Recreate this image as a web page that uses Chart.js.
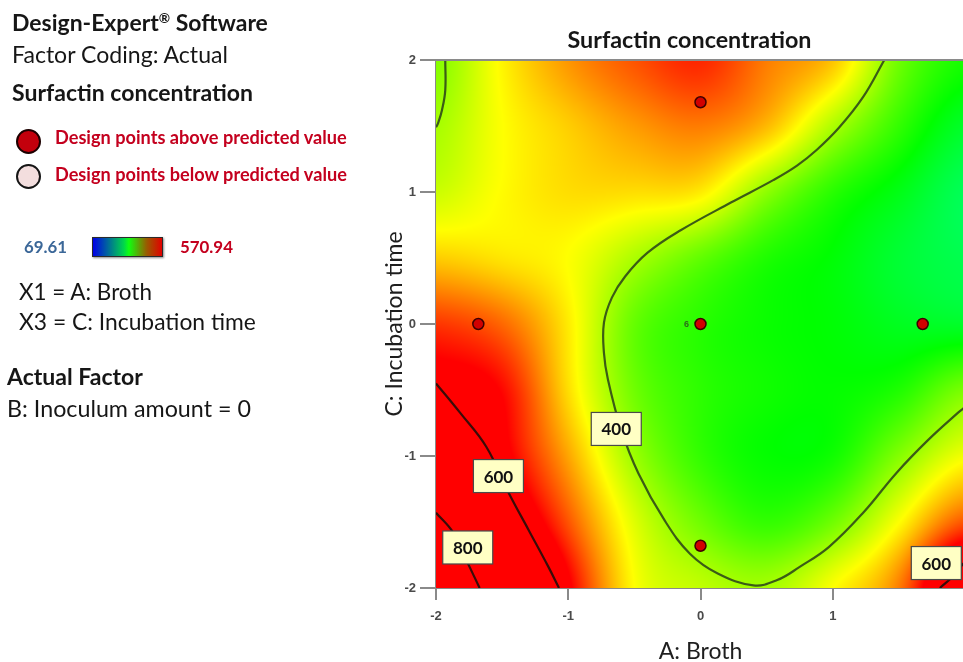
<!DOCTYPE html>
<html>
<head>
<meta charset="utf-8">
<script src="https://cdn.jsdelivr.net/npm/chart.js@4.4.0/dist/chart.umd.min.js"></script>
<style>
html,body{margin:0;padding:0;width:963px;height:662px;overflow:hidden;background:#fff;}
#wrap{position:relative;width:963px;height:662px;overflow:hidden;}
#c{position:absolute;left:0;top:0;}
.t{position:absolute;white-space:nowrap;font-family:Lato,"Open Sans",sans-serif;line-height:1.2;color:#161616;z-index:2;}
.b{font-weight:700;}
.red{color:#c4001e;}
.dot{position:absolute;border-radius:50%;box-sizing:border-box;z-index:2;}
#bar{position:absolute;left:92px;top:237px;width:71px;height:20px;box-sizing:border-box;border:1.5px solid #2a2a2a;
 background:linear-gradient(to right,#0000e6 0%,#00d84a 45%,#10ff10 52%,#9a5a00 78%,#e20000 100%);box-shadow:1px 1px 2px rgba(0,0,0,0.45);z-index:2;}
</style>
</head>
<body>
<div id="wrap">
<canvas id="c" width="972" height="662"></canvas>

<div class="t b" data-x="12" data-b="31" data-w="256" data-fs="21">Design-Expert<span style="font-size:0.6em;vertical-align:0.6em">®</span> Software</div>
<div class="t" data-x="12" data-b="63" data-w="216" data-fs="21">Factor Coding: Actual</div>
<div class="t b" data-x="12" data-b="101" data-w="241" data-fs="21">Surfactin concentration</div>

<div class="dot" style="left:16px;top:129px;width:25px;height:25px;background:#c3000c;border:2.5px solid #1c0000;"></div>
<div class="t b red" data-x="55" data-b="144" data-w="292" data-fs="16">Design points above predicted value</div>
<div class="dot" style="left:16px;top:164px;width:25px;height:25px;background:#f3dede;border:2.5px solid #151515;"></div>
<div class="t b red" data-x="55" data-b="181" data-w="292" data-fs="16">Design points below predicted value</div>

<div class="t b" style="color:#3b6798" data-x="24" data-b="253" data-w="43" data-fs="16">69.61</div>
<div id="bar"></div>
<div class="t b red" data-x="180" data-b="253" data-w="53" data-fs="16">570.94</div>

<div class="t" data-x="19" data-b="300" data-w="133" data-fs="22">X1 = A: Broth</div>
<div class="t" data-x="19" data-b="330" data-w="237" data-fs="22">X3 = C: Incubation time</div>
<div class="t b" data-x="7" data-b="385" data-w="136" data-fs="22">Actual Factor</div>
<div class="t" data-x="7" data-b="417" data-w="244" data-fs="22">B: Inoculum amount = 0</div>
</div>

<script>
// ---------------- data ----------------
const chartTitle = 'Surfactin concentration';
const xTitle = 'A: Broth';
const yTitle = 'C: Incubation time';
const xTicks = [-2, -1, 0, 1];
const yTicks = [-2, -1, 0, 1, 2];
const zMin = 69.61, zMax = 570.94;

// response surface sampled on a grid (rows: C from 2 to -2, columns: A from -2 to 2)
const gridA = [-2, -1.5, -1, -0.5, 0, 0.5, 1, 1.5, 2];
const gridC = [2, 1.5, 1, 0.5, 0, -0.5, -1, -1.5, -2];
const surface = [
  [385, 450, 497, 530, 552, 510, 475, 375, 330],
  [402, 445, 470, 495, 510, 480, 406, 345, 300],
  [420, 447, 462, 462, 455, 390, 340, 310, 278],
  [470, 458, 445, 405, 368, 335, 318, 295, 282],
  [545, 520, 455, 370, 340, 325, 318, 305, 300],
  [600, 568, 462, 375, 342, 328, 322, 335, 380],
  [700, 588, 490, 397, 345, 322, 328, 385, 440],
  [810, 650, 530, 430, 375, 345, 375, 445, 530],
  [900, 760, 580, 446, 415, 402, 445, 510, 680]
];

// design points
const designA = [0, -1.68, 0, 1.68, 0];
const designC = [1.68, 0, 0, 0, -1.68];
const replicateText = '6';

// contour lines
const c400A = [1.39, 1.23, 1.05, 0.88, 0.73, 0.55, 0.23, -0.15, -0.40, -0.57, -0.67, -0.73, -0.73, -0.70, -0.60, -0.47, -0.27, -0.08, 0.13, 0.40, 0.58, 0.75, 0.97, 1.23, 1.48, 1.72, 1.95, 2.0];
const c400C = [2.0, 1.72, 1.49, 1.32, 1.20, 1.09, 0.92, 0.71, 0.54, 0.36, 0.20, 0.01, -0.22, -0.42, -0.80, -1.13, -1.49, -1.74, -1.89, -1.98, -1.94, -1.84, -1.69, -1.43, -1.13, -0.88, -0.67, -0.63];
const c400bA = [-1.93, -1.93, -1.955, -1.985, -2.0];
const c400bC = [2.0, 1.77, 1.62, 1.52, 1.49];
const c600A = [-2.0, -1.82, -1.62, -1.45, -1.30, -1.15, -1.07];
const c600C = [-0.45, -0.67, -0.93, -1.28, -1.56, -1.84, -2.0];
const c800A = [-2.0, -1.87, -1.77, -1.67];
const c800C = [-1.43, -1.58, -1.79, -2.0];
const c600bA = [1.81, 1.90, 1.95, 2.0];
const c600bC = [-2.0, -1.92, -1.86, -1.80];

// contour labels
const labelText = ['400', '600', '800', '600'];
const labelA = [-0.637, -1.528, -1.760, 1.783];
const labelC = [-0.795, -1.152, -1.693, -1.811];

// ---------------- helpers ----------------
function pts(A, C) { return A.map((a, i) => ({ x: a, y: C[i] })); }

function cr(p0, p1, p2, p3, t) {
  return p1 + 0.5 * t * (p2 - p0 + t * (2 * p0 - 5 * p1 + 4 * p2 - p3 + t * (3 * (p1 - p2) + p3 - p0)));
}
function sampleGrid(a, c) {
  const fi = (c - gridC[0]) / (gridC[1] - gridC[0]);
  const fj = (a - gridA[0]) / (gridA[1] - gridA[0]);
  const nr = surface.length, nc = surface[0].length;
  const i1 = Math.max(0, Math.min(nr - 2, Math.floor(fi)));
  const j1 = Math.max(0, Math.min(nc - 2, Math.floor(fj)));
  const ti = fi - i1, tj = fj - j1;
  const cl = (k, n) => Math.max(0, Math.min(n - 1, k));
  const rows = [];
  for (let di = -1; di <= 2; di++) {
    const r = surface[cl(i1 + di, nr)];
    rows.push(cr(r[cl(j1 - 1, nc)], r[cl(j1, nc)], r[cl(j1 + 1, nc)], r[cl(j1 + 2, nc)], tj));
  }
  return cr(rows[0], rows[1], rows[2], rows[3], ti);
}
function colormap(v) {
  let t = (v - zMin) / (zMax - zMin);
  t = Math.max(0, Math.min(1, t));
  const h = 240 * (1 - t) / 60;
  const x = 1 - Math.abs((h % 2) - 1);
  let r = 0, g = 0, b = 0;
  if (h < 1) { r = 1; g = x; }
  else if (h < 2) { r = x; g = 1; }
  else if (h < 3) { g = 1; b = x; }
  else { g = x; b = 1; }
  return [r * 255, g * 255, b * 255];
}

const heatmapPlugin = {
  id: 'heatmap',
  beforeDatasetsDraw(chart) {
    const { ctx, chartArea: ca, scales: { x, y } } = chart;
    const w = Math.round(ca.right - ca.left), h = Math.round(ca.bottom - ca.top);
    const off = document.createElement('canvas');
    off.width = w; off.height = h;
    const octx = off.getContext('2d');
    const img = octx.createImageData(w, h);
    const d = img.data;
    for (let py = 0; py < h; py++) {
      const c = y.getValueForPixel(ca.top + py + 0.5);
      for (let px = 0; px < w; px++) {
        const a = x.getValueForPixel(ca.left + px + 0.5);
        const col = colormap(sampleGrid(a, c));
        const k = (py * w + px) * 4;
        d[k] = col[0]; d[k + 1] = col[1]; d[k + 2] = col[2]; d[k + 3] = 255;
      }
    }
    octx.putImageData(img, 0, 0);
    ctx.drawImage(off, ca.left, ca.top);
  },
  afterDatasetsDraw(chart) {
    const { ctx, chartArea: ca, scales: { x, y } } = chart;
    ctx.save();
    ctx.font = 'bold 17px Lato, sans-serif';
    ctx.textAlign = 'center';
    ctx.textBaseline = 'middle';
    labelText.forEach((txt, i) => {
      const px = x.getPixelForValue(labelA[i]);
      const py = y.getPixelForValue(labelC[i]);
      const bw = 50, bh = 33;
      ctx.fillStyle = '#ffffc4';
      ctx.fillRect(px - bw / 2, py - bh / 2, bw, bh);
      ctx.strokeStyle = '#4a4a4a';
      ctx.lineWidth = 1.2;
      ctx.strokeRect(px - bw / 2, py - bh / 2, bw, bh);
      ctx.fillStyle = '#111';
      ctx.fillText(txt, px, py + 1);
    });
    ctx.font = 'bold 9px "Liberation Sans", sans-serif';
    ctx.fillStyle = '#2d6a1c';
    ctx.fillText(replicateText, x.getPixelForValue(designA[2]) - 14, y.getPixelForValue(designC[2]) + 1);
    ctx.strokeStyle = '#8a8a8a';
    ctx.lineWidth = 2;
    ctx.beginPath();
    ctx.moveTo(ca.left - 1, ca.top);
    ctx.lineTo(ca.right, ca.top);
    ctx.stroke();
    ctx.restore();
  },
  afterDraw(chart) {
    const { ctx, chartArea: ca } = chart;
    ctx.save();
    ctx.font = 'bold 21px Lato, sans-serif';
    const fs = 21 * 244 / ctx.measureText(chartTitle).width;
    ctx.font = 'bold ' + fs.toFixed(2) + 'px Lato, sans-serif';
    ctx.fillStyle = '#161616';
    ctx.textAlign = 'center';
    ctx.textBaseline = 'alphabetic';
    ctx.fillText(chartTitle, (ca.left + ca.right) / 2 - 11, 48);
    ctx.restore();
  }
};

function contourDS(A, C, color) {
  return {
    type: 'line', data: pts(A, C), showLine: true, borderColor: color, borderWidth: 2.2,
    pointRadius: 0, tension: 0.4, fill: false, order: 1
  };
}

function placeTexts() {
  document.querySelectorAll('.t').forEach(el => {
    const fs0 = parseFloat(el.dataset.fs);
    el.style.fontSize = fs0 + 'px';
    el.style.left = el.dataset.x + 'px';
    el.style.top = '0px';
    const m = document.createElement('span');
    m.style.cssText = 'display:inline-block;width:0;height:0;vertical-align:baseline';
    el.appendChild(m);
    const w = el.getBoundingClientRect().width;
    const fs = fs0 * parseFloat(el.dataset.w) / w;
    el.style.fontSize = fs.toFixed(2) + 'px';
    const b = m.getBoundingClientRect().top - el.getBoundingClientRect().top;
    el.style.top = (parseFloat(el.dataset.b) - b) + 'px';
  });
}

function init() {
  placeTexts();
  const axisGrid = (len) => ({ display: true, drawOnChartArea: false, drawTicks: true, tickLength: len, color: '#8a8a8a', lineWidth: 2 });
  const tickFont = { family: '"Liberation Sans", Arial, sans-serif', size: 13, weight: 'bold' };
  new Chart(document.getElementById('c'), {
    type: 'scatter',
    data: {
      datasets: [
        {
          type: 'scatter', data: pts(designA, designC), backgroundColor: '#d20000', borderColor: '#3e0000',
          borderWidth: 1.5, pointRadius: 5.5, order: 0
        },
        contourDS(c400A, c400C, '#3b5c16'),
        contourDS(c400bA, c400bC, '#3b5c16'),
        contourDS(c600A, c600C, '#3a0c08'),
        contourDS(c800A, c800C, '#3a0c08'),
        contourDS(c600bA, c600bC, '#3a0c08')
      ]
    },
    options: {
      responsive: false,
      animation: false,
      events: [],
      layout: { padding: { left: 370, top: 60, right: 2, bottom: 0 } },
      plugins: { legend: { display: false }, tooltip: { enabled: false }, title: { display: false } },
      scales: {
        x: {
          type: 'linear', min: -2, max: 2, position: 'bottom', z: 1,
          afterBuildTicks: s => { s.ticks = xTicks.map(v => ({ value: v })); },
          afterFit: s => { s.height = 74; },
          grid: axisGrid(12),
          border: { display: true, color: '#8a8a8a', width: 2 },
          ticks: { padding: 9, color: '#4a4a4a', font: tickFont, callback: v => String(v) },
          title: { display: true, text: xTitle, color: '#1e1e1e', font: { family: 'Lato, sans-serif', size: 23, lineHeight: 0.87 }, padding: { top: 0, bottom: 0 } }
        },
        y: {
          type: 'linear', min: -2, max: 2, position: 'left', z: 1,
          afterBuildTicks: s => { s.ticks = yTicks.map(v => ({ value: v })); },
          afterFit: s => { s.width = 66; },
          grid: axisGrid(16),
          border: { display: true, color: '#8a8a8a', width: 2 },
          ticks: { padding: 4, color: '#4a4a4a', font: tickFont, callback: v => String(v) },
          title: { display: true, text: yTitle, color: '#1e1e1e', font: { family: 'Lato, sans-serif', size: 23, lineHeight: 1 }, padding: { top: 13, bottom: 0 } }
        }
      }
    },
    plugins: [heatmapPlugin]
  });
}

const fontLoads = ['700 21px Lato', '400 21px Lato', '700 13px "Liberation Sans"'].map(f => document.fonts.load(f));
Promise.all(fontLoads).catch(() => {}).then(init);
</script>
</body>
</html>
